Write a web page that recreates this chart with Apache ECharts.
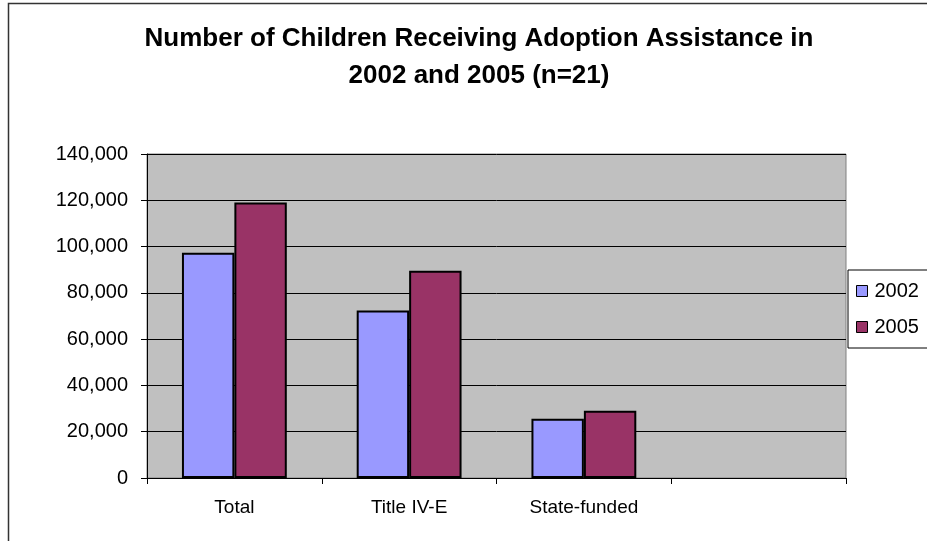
<!DOCTYPE html>
<html>
<head>
<meta charset="utf-8">
<script src="https://cdn.jsdelivr.net/npm/echarts@6/dist/echarts.min.js"></script>
<style>
html,body{margin:0;padding:0;background:#fff;}
#chart{width:927px;height:541px;}
</style>
</head>
<body>
<div id="chart"></div>
<script>
const categories = ['Total', 'Title IV-E', 'State-funded', ''];
const values2002 = [97300, 72400, 25600];
const values2005 = [119000, 89600, 29100];
const seriesNames = ['2002', '2005'];

const chart = echarts.init(document.getElementById('chart'));
const font = 'Liberation Sans, Arial, sans-serif';
chart.setOption({
  animation: false,
  backgroundColor: '#ffffff',
  graphic: [{
    type: 'rect', silent: true, z: -1,
    shape: {x: 8.5, y: 3.5, width: 1000, height: 1000},
    style: {fill: 'none', stroke: '#333', lineWidth: 1.5}
  }],
  title: {
    text: 'Number of Children Receiving Adoption Assistance in\n2002 and 2005 (n=21)',
    left: 474, top: 15, textAlign: 'center',
    textStyle: {fontFamily: font, fontSize: 26, fontWeight: 'bold', color: '#000', lineHeight: 37}
  },
  legend: {
    orient: 'vertical', left: 848, top: 270,
    padding: [11, 20, 11, 8],
    itemGap: 16, itemWidth: 11, itemHeight: 11,
    borderColor: '#000', borderWidth: 1,
    backgroundColor: '#fff',
    textStyle: {fontFamily: font, fontSize: 20, color: '#000', padding: [0, 0, 0, 2]},
    data: seriesNames.map(n => ({name: n, icon: 'rect', itemStyle: {borderColor: '#000', borderWidth: 1}}))
  },
  grid: {left: 147, right: 81, top: 154, bottom: 63, show: true, backgroundColor: '#c0c0c0', borderColor: '#808080', borderWidth: 1},
  xAxis: {
    type: 'category', data: categories,
    axisLine: {lineStyle: {color: '#000', width: 1}},
    axisTick: {show: true, length: 6, lineStyle: {color: '#000'}},
    axisLabel: {fontFamily: font, fontSize: 19, color: '#000', margin: 20}
  },
  yAxis: {
    type: 'value', min: 0, max: 140000, interval: 20000,
    axisLine: {show: true, lineStyle: {color: '#000', width: 1}},
    axisTick: {show: true, length: 6, lineStyle: {color: '#000'}},
    splitLine: {lineStyle: {color: '#000', width: 1}},
    axisLabel: {fontFamily: font, fontSize: 20, color: '#000', margin: 19,
      formatter: v => v.toLocaleString('en-US')}
  },
  series: [
    {name: seriesNames[0], type: 'bar', data: values2002, barGap: '0%', barCategoryGap: '40%',
     itemStyle: {color: '#9999ff', borderColor: '#000', borderWidth: 2}},
    {name: seriesNames[1], type: 'bar', data: values2005, barGap: '0%', barCategoryGap: '40%',
     itemStyle: {color: '#993366', borderColor: '#000', borderWidth: 2}}
  ]
});
</script>
</body>
</html>
